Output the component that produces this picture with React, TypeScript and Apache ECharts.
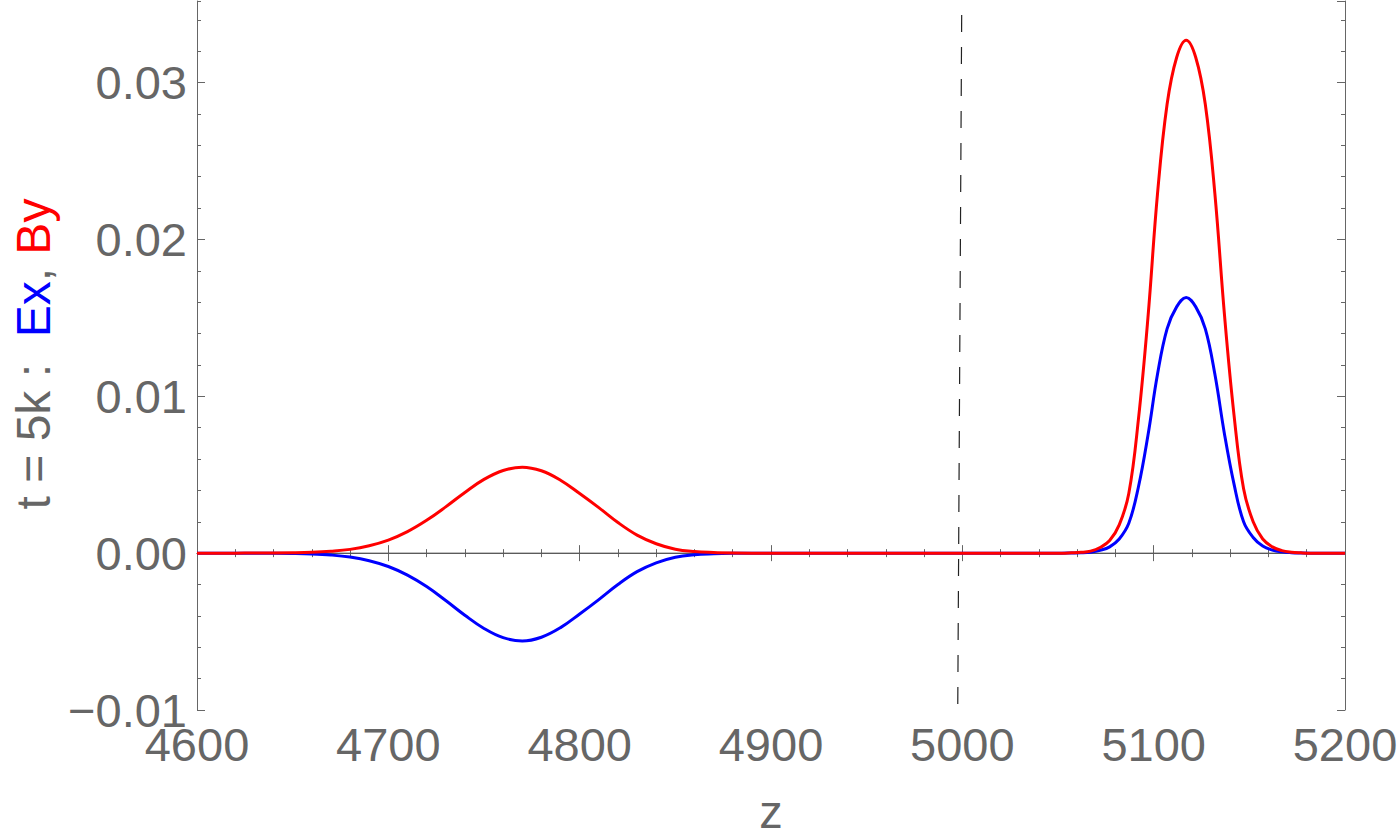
import React, { useEffect, useRef } from "react";
import * as echarts from "echarts";

// ---------- data ----------
const zRange = [4600, 5200];
const yRange = [-0.01, 0.0352];
const yMajorTicks = [-0.01, 0, 0.01, 0.02, 0.03];
const yTickLabels = ["\u22120.01", "0.00", "0.01", "0.02", "0.03"];

const zGrid = [
  4600, 4610, 4620, 4630, 4640, 4650, 4660, 4670, 4680, 4690,
  4700, 4710, 4720, 4730, 4740, 4750, 4760, 4770, 4780, 4790,
  4800, 4810, 4820, 4830, 4840, 4850, 4860, 4870, 4880, 4890,
  4900, 4920, 4940, 4960, 4980, 5000, 5020, 5040,
  5052, 5057, 5062, 5067, 5072, 5077, 5082, 5087, 5092, 5097,
  5102, 5107, 5112, 5117, 5122, 5127, 5132, 5137, 5142, 5147,
  5152, 5157, 5162, 5167, 5172, 5177, 5182, 5190, 5200,
];

const byValues = [
  0, 0, 0, 0.00001, 0.00001, 0.00002, 0.00005, 0.00012, 0.00024, 0.00047,
  0.00083, 0.00137, 0.00209, 0.00295, 0.00387, 0.0047, 0.00527, 0.00548, 0.00525, 0.00465,
  0.0038, 0.0029, 0.00195, 0.00115, 0.0006, 0.00025, 0.0001, 0.00004, 0.00001, 0,
  0, 0, 0, 0, 0, 0, 0, 0,
  0, 0.00002, 0.00005, 0.00013, 0.00036, 0.0008, 0.0018, 0.0038, 0.0085, 0.015,
  0.0229, 0.0286, 0.0316, 0.0327, 0.0316, 0.0286, 0.0229, 0.0152, 0.0088, 0.0041,
  0.002, 0.0009, 0.0004, 0.00016, 0.00006, 0.00002, 0, 0, 0,
];

const exValues = [
  0, 0, 0, -0.00001, -0.00001, -0.00002, -0.00005, -0.00012, -0.00025, -0.00048,
  -0.00085, -0.0014, -0.00213, -0.00302, -0.00396, -0.0048, -0.00539, -0.0056, -0.00536, -0.00475,
  -0.00388, -0.00296, -0.002, -0.00118, -0.00062, -0.00026, -0.0001, -0.00004, -0.00001, 0,
  0, 0, 0, 0, 0, 0, 0, 0,
  0, 0.00001, 0.00002, 0.00006, 0.00018, 0.0004, 0.0009, 0.0019, 0.0042, 0.0075,
  0.0114, 0.0143, 0.0157, 0.0163, 0.0157, 0.0143, 0.0114, 0.0076, 0.0044, 0.002,
  0.001, 0.00045, 0.0002, 0.00008, 0.00003, 0.00001, 0, 0, 0,
];

const zeroLine = [
  [4600, 0],
  [5200, 0],
];
const dashedLine = [
  [4999.7, 0.0352],
  [4997.6, -0.01],
];

const GRAY = "#666666";
const FONT = "'Liberation Sans', Arial, Helvetica, sans-serif";

export default function App() {
  const ref = useRef<HTMLDivElement>(null);

  useEffect(() => {
    if (!ref.current) return;
    const chart = echarts.init(ref.current, undefined, { renderer: "svg" });

    const exData = zGrid.map((z, i) => [z, exValues[i]]);
    const byData = zGrid.map((z, i) => [z, byValues[i]]);

    const yLabel = (v: number) => {
      const i = yMajorTicks.findIndex((t) => Math.abs(t - v) < 1e-9);
      return i >= 0 ? yTickLabels[i] : "";
    };

    const frameLine = { show: true, lineStyle: { color: GRAY, width: 1 } };

    const xBase = {
      type: "value",
      min: zRange[0],
      max: zRange[1],
      interval: 100,
      splitLine: { show: false },
      axisLine: frameLine,
      axisTick: { show: true, inside: true, length: 8, lineStyle: { color: GRAY, width: 1 } },
      minorTick: { show: true, splitNumber: 5, length: 4, lineStyle: { color: GRAY, width: 1 } },
    };

    const yBase = {
      type: "value",
      min: yRange[0],
      max: yRange[1],
      splitLine: { show: false },
      axisLabel: { show: false },
    };

    chart.setOption({
      animation: false,
      backgroundColor: "#ffffff",
      grid: {
        left: 197,
        right: 55,
        top: 1,
        bottom: 130,
        containLabel: false,
        outerBoundsMode: "none",
      },
      xAxis: [
        {
          ...xBase,
          position: "bottom",
          axisLabel: {
            show: true,
            color: GRAY,
            fontSize: 47,
            fontFamily: FONT,
            margin: 11,
            formatter: (v: number) => String(v),
          },
          name: "z",
          nameLocation: "middle",
          nameGap: 78,
          nameTextStyle: { color: GRAY, fontSize: 47, fontFamily: FONT },
        },
        {
          ...xBase,
          position: "top",
          axisLabel: { show: false },
        },
      ],
      yAxis: [
        {
          ...yBase,
          position: "left",
          interval: 0.01,
          axisLine: frameLine,
          axisTick: { show: true, inside: true, length: 8, lineStyle: { color: GRAY, width: 1 } },
          axisLabel: {
            show: true,
            color: GRAY,
            fontSize: 47,
            fontFamily: FONT,
            margin: 10,
            showMaxLabel: false,
            formatter: yLabel,
          },
        },
        {
          ...yBase,
          position: "left",
          interval: 0.002,
          axisLine: { show: false },
          axisTick: { show: true, inside: true, length: 4, lineStyle: { color: GRAY, width: 1 } },
        },
        {
          ...yBase,
          position: "right",
          interval: 0.01,
          axisLine: frameLine,
          axisTick: { show: true, inside: true, length: 8, lineStyle: { color: GRAY, width: 1 } },
        },
        {
          ...yBase,
          position: "right",
          interval: 0.002,
          axisLine: { show: false },
          axisTick: { show: true, inside: true, length: 4, lineStyle: { color: GRAY, width: 1 } },
        },
      ],
      graphic: [
        {
          type: "text",
          x: 33,
          y: 354,
          rotation: Math.PI / 2,
          style: {
            text: "{g|t = 5k :  }{b|Ex}{g|, }{r|By}",
            fontSize: 48,
            fontFamily: FONT,
            align: "center",
            verticalAlign: "middle",
            rich: {
              g: { fill: GRAY, fontSize: 48, fontFamily: FONT },
              b: { fill: "#0000ff", fontSize: 48, fontFamily: FONT },
              r: { fill: "#ff0000", fontSize: 48, fontFamily: FONT },
            },
          },
        },
      ],
      series: [
        {
          name: "zero",
          type: "line",
          data: zeroLine,
          symbol: "none",
          silent: true,
          z: 1,
          lineStyle: { color: "#555555", width: 1 },
        },
        {
          name: "marker",
          type: "line",
          data: dashedLine,
          symbol: "none",
          silent: true,
          z: 2,
          lineStyle: { color: "#222222", width: 1.2, type: [17, 15], dashOffset: 18 },
        },
        {
          name: "Ex",
          type: "line",
          data: exData,
          symbol: "none",
          smooth: 0.4,
          z: 3,
          lineStyle: { color: "#0000ff", width: 3 },
        },
        {
          name: "By",
          type: "line",
          data: byData,
          symbol: "none",
          smooth: 0.4,
          z: 4,
          lineStyle: { color: "#ff0000", width: 3 },
        },
      ],
    });

    return () => chart.dispose();
  }, []);

  return (
    <div
      ref={ref}
      style={{ position: "fixed", left: 0, top: 0, width: 1400, height: 840, background: "#fff" }}
    />
  );
}
